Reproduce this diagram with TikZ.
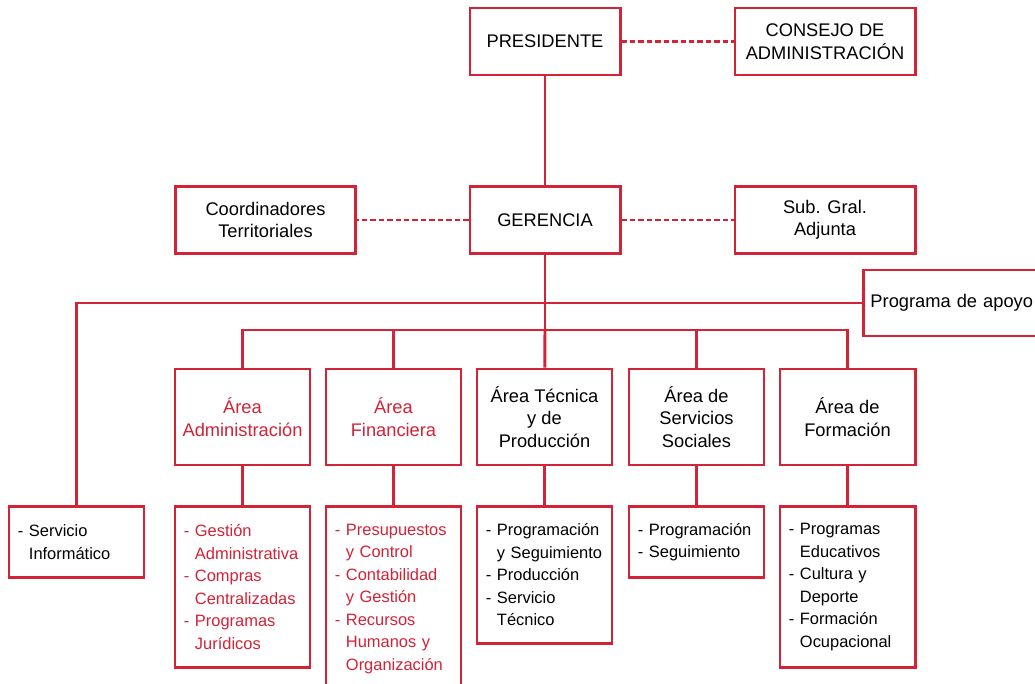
\documentclass[tikz,border=0pt]{standalone}
\usepackage{fontspec}
\setmainfont{Liberation Sans}
\usetikzlibrary{positioning}
\definecolor{orgred}{RGB}{210,35,55}
\tikzstyle{unit} = [rectangle, draw=orgred, line width=2.1pt, fill=white, minimum height=1.675cm, align=center, text=black, font=\fontsize{13}{16}\selectfont, inner sep=0pt]
\tikzstyle{area} = [unit, minimum width=3.375cm, minimum height=2.4cm]
\tikzstyle{sublist} = [rectangle, draw=orgred, line width=2.1pt, fill=white, minimum width=3.375cm, text width=2.925cm, inner xsep=0.225cm, inner ysep=0pt, align=left, text=black, font=\fontsize{11.7}{16}\selectfont]
\tikzstyle{link} = [draw=orgred, line width=2.1pt]
\tikzstyle{dotlink} = [link, dash pattern=on 3.9pt off 2.1pt]
\newcommand{\sangria}{\hphantom{- }}

\begin{document}
\begin{tikzpicture}[x=0.025cm, y=-0.025cm]

\useasboundingbox (0,0) rectangle (1035,684);
\clip (0,0) rectangle (1035,684);

% Top level
\node[unit, minimum width=3.75cm] (presidente) at (545,41.5) {PRESIDENTE};
\node[unit, minimum width=4.5cm] (consejo) at (825,41.5) {CONSEJO DE\\ADMINISTRACIÓN};

% Management
\node[unit, minimum width=3.75cm] (gerencia) at (545,220) {GERENCIA};
\node[unit, minimum width=4.5cm] (coord) at (265.5,220) {Coordinadores\\Territoriales};
\node[unit, minimum width=4.5cm] (subgral) at (825,220) {Sub. Gral.\\Adjunta};

% Support programme (cut at the right edge)
\node[unit, anchor=west, minimum width=5cm, minimum height=1.65cm, text width=4.65cm, inner xsep=0.175cm, align=left] (apoyo) at (862,303) {Programa de apoyo};

% Areas
\node[area, text=orgred] (areaadm) at (242.5,417) {Área\\Administración};
\node[area, text=orgred] (areafin) at (393.5,417) {Área\\Financiera};
\node[area] (areatec) at (544.5,417) {Área Técnica\\y de\\Producción};
\node[area] (areaserv) at (696.5,417) {Área de\\Servicios\\Sociales};
\node[area] (areaform) at (847.5,417) {Área de\\Formación};

% Sections
\node[sublist, anchor=north, minimum height=1.775cm] (sinfo) at (76.5,505) {- Servicio\\\sangria Informático};
\node[sublist, anchor=north, minimum height=4.025cm, text=orgred] (subadm) at (242.5,505) {- Gestión\\\sangria Administrativa\\- Compras\\\sangria Centralizadas\\- Programas\\\sangria Jurídicos};
\node[sublist, anchor=north, minimum height=4.625cm, text=orgred] (subfin) at (393.5,505) {- Presupuestos\\\sangria y~Control\\- Contabilidad\\\sangria y~Gestión\\- Recursos\\\sangria Humanos~y\\\sangria Organización};
\node[sublist, anchor=north, minimum height=3.425cm] (subtec) at (544.5,505) {- Programación\\\sangria y~Seguimiento\\- Producción\\- Servicio\\\sangria Técnico};
\node[sublist, anchor=north, minimum height=1.775cm] (subserv) at (696.5,505) {- Programación\\- Seguimiento};
\node[sublist, anchor=north, minimum height=4.025cm] (subform) at (847.5,505) {- Programas\\\sangria Educativos\\- Cultura~y\\\sangria Deporte\\- Formación\\\sangria Ocupacional};

% Connections
\coordinate (ramal) at (545,330);
\draw[link] (presidente) -- (gerencia);
\draw[dotlink] (presidente) -- (consejo);
\draw[dotlink] (gerencia) -- (coord);
\draw[dotlink] (gerencia) -- (subgral);
\draw[link] (gerencia) -- (ramal);
\draw[link] (sinfo.north) |- (apoyo.west);
\draw[link] (areaadm.north) |- (ramal) -| (areaform.north);
\draw[link] (ramal) -- (areatec);
\draw[link] (areafin.north) -- (areafin.north |- ramal);
\draw[link] (areaserv.north) -- (areaserv.north |- ramal);
\draw[link] (areaadm) -- (subadm);
\draw[link] (areafin) -- (subfin);
\draw[link] (areatec) -- (subtec);
\draw[link] (areaserv) -- (subserv);
\draw[link] (areaform) -- (subform);

\end{tikzpicture}
\end{document}
